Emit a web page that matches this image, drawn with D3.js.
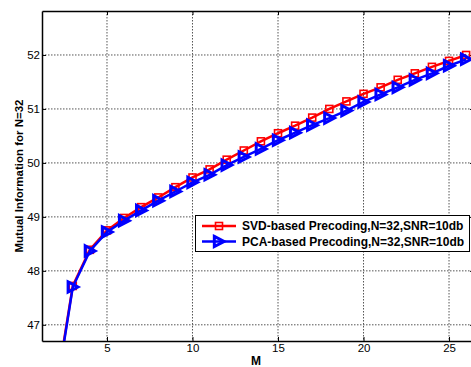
<!DOCTYPE html>
<html>
<head>
<meta charset="utf-8">
<script src="https://cdn.jsdelivr.net/npm/d3@7"></script>
<style>
  html, body { margin: 0; padding: 0; background: #fff; }
  svg { display: block; }
  text { font-family: "Liberation Sans", Arial, sans-serif; }
</style>
</head>
<body>
<svg id="chart" width="471" height="367"></svg>
<script>
// Number of antennas M
const mValues = [2, 3, 4, 5, 6, 7, 8, 9, 10, 11, 12, 13, 14, 15, 16, 17, 18, 19, 20, 21, 22, 23, 24, 25, 26];
// Mutual information, SVD-based precoding
const svdValues = [45.75, 47.72, 48.39, 48.75, 48.98, 49.18, 49.36, 49.55, 49.73, 49.88, 50.06, 50.23, 50.40,
                   50.55, 50.69, 50.84, 51.00, 51.14, 51.28, 51.40, 51.54, 51.66, 51.78, 51.89, 52.00];
// Mutual information, PCA-based precoding
const pcaValues = [45.70, 47.70, 48.37, 48.72, 48.93, 49.12, 49.30, 49.47, 49.64, 49.78, 49.96, 50.11, 50.26,
                   50.42, 50.56, 50.70, 50.83, 50.97, 51.13, 51.27, 51.40, 51.54, 51.66, 51.80, 51.92];
const xTicks = [5, 10, 15, 20, 25];
const yTicks = [47, 48, 49, 50, 51, 52];
const seriesNames = ["SVD-based Precoding,N=32,SNR=10db", "PCA-based Precoding,N=32,SNR=10db"];
const xLabel = "M";
const yLabel = "Mutual Information for N=32";

const svg = d3.select("#chart");
const plot = { left: 42, top: 11, right: 474, bottom: 341 };

const x = d3.scaleLinear().domain([1.2, 26.46]).range([plot.left, plot.right]);
const y = d3.scaleLinear().domain([46.70, 52.815]).range([plot.bottom, plot.top]);

svg.append("defs").append("clipPath").attr("id", "plotClip")
  .append("rect")
  .attr("x", plot.left).attr("y", plot.top)
  .attr("width", plot.right - plot.left).attr("height", plot.bottom - plot.top);

// Dotted grid
const grid = svg.append("g");
grid.selectAll("line.gx").data(xTicks).join("line")
  .attr("x1", d => x(d)).attr("x2", d => x(d))
  .attr("y1", plot.top).attr("y2", plot.bottom)
  .attr("stroke", "#555").attr("stroke-width", 1).attr("stroke-dasharray", "1.5,1.5");
grid.selectAll("line.gy").data(yTicks).join("line")
  .attr("y1", d => y(d)).attr("y2", d => y(d))
  .attr("x1", plot.left).attr("x2", plot.right)
  .attr("stroke", "#555").attr("stroke-width", 1).attr("stroke-dasharray", "1.5,1.5");

// Axes with inward ticks
const tickLen = 4;
const fmt = d3.format("d");
const axBottom = svg.append("g").attr("transform", `translate(0,${plot.bottom})`)
  .call(d3.axisBottom(x).tickValues(xTicks).tickFormat(fmt).tickSizeInner(-tickLen).tickSizeOuter(0).tickPadding(3));
const axTop = svg.append("g").attr("transform", `translate(0,${plot.top})`)
  .call(d3.axisTop(x).tickValues(xTicks).tickSizeInner(-tickLen).tickSizeOuter(0).tickFormat(""));
const axLeft = svg.append("g").attr("transform", `translate(${plot.left},0)`)
  .call(d3.axisLeft(y).tickValues(yTicks).tickFormat(fmt).tickSizeInner(-tickLen).tickSizeOuter(0).tickPadding(2));
const axRight = svg.append("g").attr("transform", `translate(${plot.right},0)`)
  .call(d3.axisRight(y).tickValues(yTicks).tickSizeInner(-tickLen).tickSizeOuter(0).tickFormat(""));

[axBottom, axTop, axLeft, axRight].forEach(a => {
  a.select(".domain").attr("stroke", "#000").attr("stroke-width", 1.5);
  a.selectAll(".tick line").attr("stroke", "#000").attr("stroke-width", 1);
  a.selectAll(".tick text").attr("font-size", 11.5).attr("fill", "#000")
    .attr("font-family", "'Liberation Sans', Arial, sans-serif");
});

// Series
const lineGen = d3.line().x(d => x(d[0])).y(d => y(d[1]));
const svdData = mValues.map((m, i) => [m, svdValues[i]]);
const pcaData = mValues.map((m, i) => [m, pcaValues[i]]);
const series = svg.append("g").attr("clip-path", "url(#plotClip)");

const red = "#ff0000", blue = "#0000ff";
const triPath = s => `M${-s * 0.55},${-s * 0.6}L${s * 0.6},0L${-s * 0.55},${s * 0.6}Z`;

series.append("path").datum(svdData).attr("d", lineGen)
  .attr("fill", "none").attr("stroke", red).attr("stroke-width", 2.5);
series.selectAll("rect.svd").data(svdData).join("rect")
  .attr("x", d => x(d[0]) - 3.5).attr("y", d => y(d[1]) - 3.5)
  .attr("width", 7).attr("height", 7)
  .attr("fill", "none").attr("stroke", red).attr("stroke-width", 1.6);

series.append("path").datum(pcaData).attr("d", lineGen)
  .attr("fill", "none").attr("stroke", blue).attr("stroke-width", 2.5);
series.selectAll("path.pca").data(pcaData).join("path")
  .attr("transform", d => `translate(${x(d[0])},${y(d[1])})`)
  .attr("d", triPath(8.5))
  .attr("fill", "none").attr("stroke", blue).attr("stroke-width", 3).attr("stroke-linejoin", "miter");

// Axis titles
svg.append("text").attr("x", 256).attr("y", 365)
  .attr("text-anchor", "middle").attr("font-size", 12).attr("font-weight", "bold").text(xLabel);
svg.append("text").attr("transform", `translate(23,${(plot.top + plot.bottom) / 2}) rotate(-90)`)
  .attr("text-anchor", "middle").attr("font-size", 11.5).attr("font-weight", "bold").text(yLabel);

// Legend
const legend = svg.append("g");
legend.append("rect").attr("x", 195.5).attr("y", 215.5).attr("width", 274).attr("height", 36)
  .attr("fill", "#fff").attr("stroke", "#000").attr("stroke-width", 1);
const rows = [
  { name: seriesNames[0], color: red, yPos: 226, marker: "square" },
  { name: seriesNames[1], color: blue, yPos: 241.5, marker: "tri" }
];
rows.forEach(r => {
  legend.append("line").attr("x1", 202).attr("x2", 236).attr("y1", r.yPos).attr("y2", r.yPos)
    .attr("stroke", r.color).attr("stroke-width", 2.5);
  if (r.marker === "square") {
    legend.append("rect").attr("x", 219 - 3.5).attr("y", r.yPos - 3.5).attr("width", 7).attr("height", 7)
      .attr("fill", "none").attr("stroke", r.color).attr("stroke-width", 1.6);
  } else {
    legend.append("path").attr("transform", `translate(219,${r.yPos})`).attr("d", triPath(8.5))
      .attr("fill", "none").attr("stroke", r.color).attr("stroke-width", 3);
  }
  legend.append("text").attr("x", 242).attr("y", r.yPos + 4.3)
    .attr("font-size", 12).attr("font-weight", "bold").text(r.name);
});
</script>
</body>
</html>
